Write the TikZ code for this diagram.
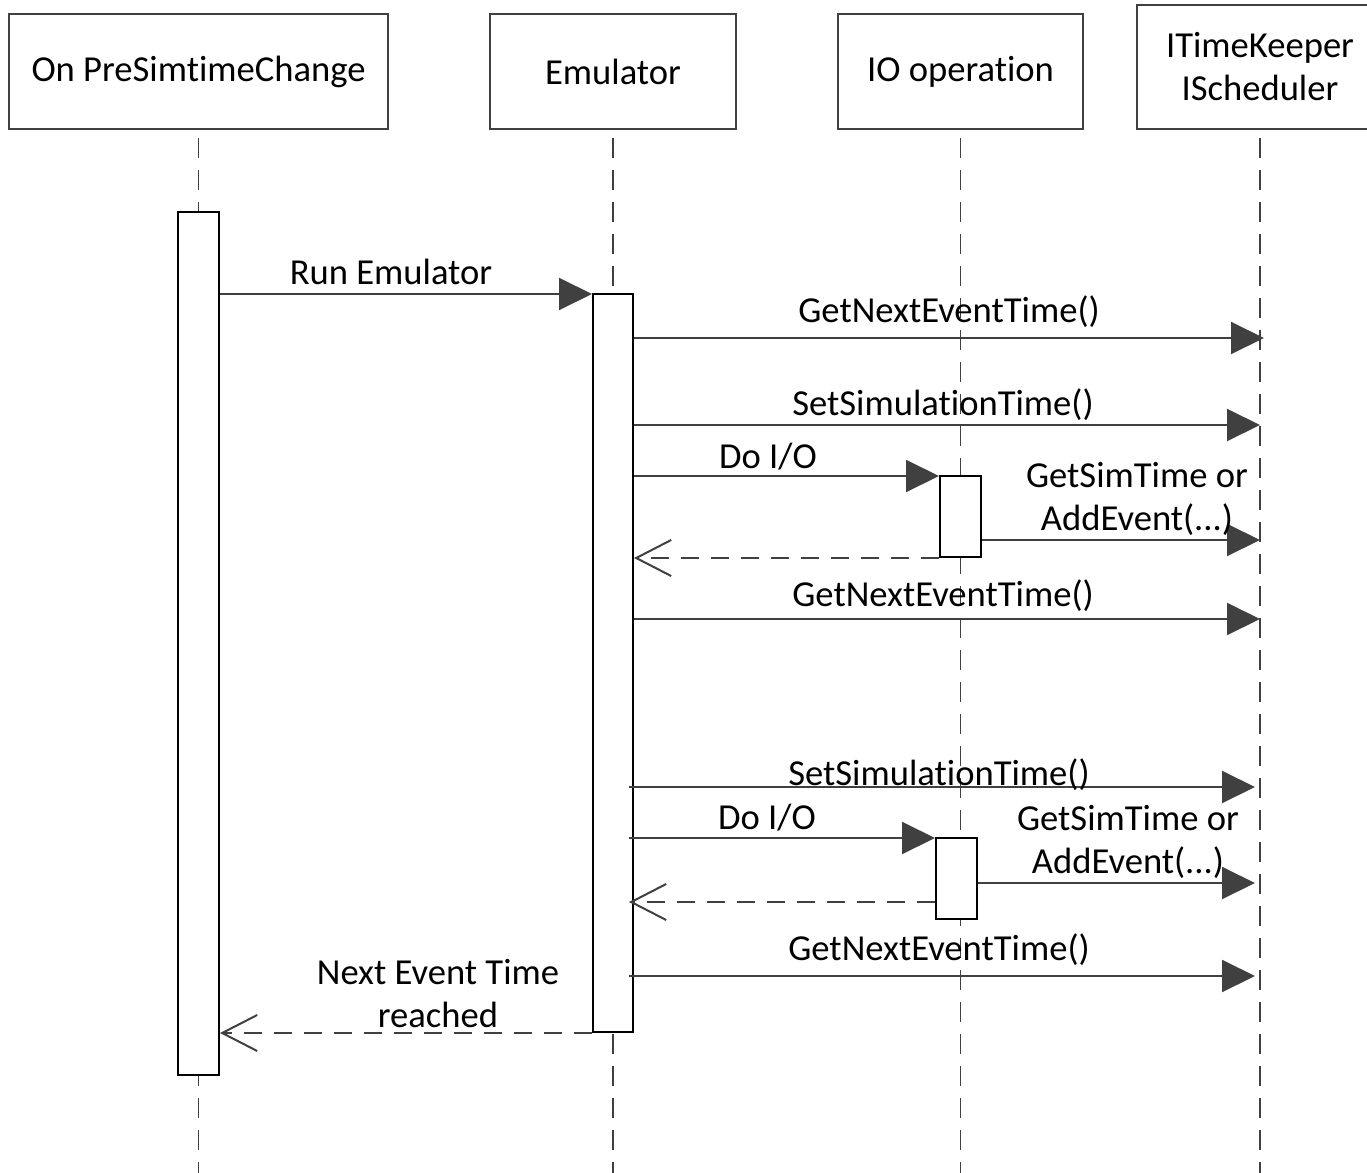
\documentclass[tikz,border=0pt]{standalone}
\usepackage{fontspec}
\setmainfont{Carlito}[Ligatures=NoCommon]
\usetikzlibrary{arrows.meta}
\definecolor{lngray}{HTML}{404040}

\begin{document}
\begin{tikzpicture}[
  x=0.5pt, y=-0.5pt,
  font=\fontsize{18.3}{21.5}\selectfont,
  head/.style={draw=lngray, line width=1pt, align=center, minimum height=57.5pt, inner sep=0pt},
  actbar/.style={draw=black, line width=1pt, fill=white, minimum width=20.5pt, inner sep=0pt},
  life/.style={lngray, line width=0.9pt, dash pattern=on 10pt off 6pt},
  msg/.style={lngray, line width=1pt, -{Triangle[length=16.5pt,width=16pt]}},
  ret/.style={lngray, line width=1pt, dash pattern=on 9pt off 6pt,
              -{Straight Barb[length=17.5pt,width=18pt]}},
  lbl/.style={align=center, inner sep=0pt},
]
\clip (0,0) rectangle (1367,1173);

% ---- participants ---------------------------------------------------------
\node[head, minimum width=189.5pt] (hA) at (198.5,71.5) {On PreSimtimeChange};
\node[head, minimum width=123pt]   (hB) at (613,71.5)   {Emulator};
\node[head, minimum width=122.5pt] (hC) at (960.5,71.5) {IO operation};
\node[head, minimum width=123pt, minimum height=62pt] (hD) at (1260,67)
  {ITimeKeeper\\ IScheduler};

% ---- lifelines ------------------------------------------------------------
\foreach \p in {A,B,C,D} {
  \coordinate (end\p) at (h\p.south |- 0,1180);
  \draw[life] ([yshift=-4pt]h\p.south) -- (end\p);
}

% ---- activations ----------------------------------------------------------
\node[actbar, minimum height=431.5pt] (barA) at (198.5,643.5) {};
\node[actbar, minimum width=20pt, minimum height=369pt] (barB) at (613,663) {};
\node[actbar, minimum height=40.5pt] (barC1) at (960.5,516.5) {};
\node[actbar, minimum height=40.5pt] (barC2) at (956.5,878.5) {};

% ---- messages -------------------------------------------------------------
\draw[msg] (barA.east |- 0,294) -- (barB.west |- 0,294);
\node[lbl, anchor=base] (l1) at (391,284) {Run Emulator};

\draw[msg] (barB.east |- 0,338) -- ([xshift=2pt]hD.south |- 0,338);
\node[lbl, anchor=base] (l2) at (949,322) {GetNextEventTime()};

\draw[msg] (barB.east |- 0,425) -- (hD.south |- 0,425);
\node[lbl, anchor=base] (l3) at (943,415) {SetSimulationTime()};

\draw[msg] (barB.east |- 0,476) -- (barC1.west |- 0,476);
\node[lbl, anchor=base] (l4) at (768,468) {Do I/O};

\draw[msg] (barC1.east |- 0,540) -- (hD.south |- 0,540);
\node[lbl, anchor=north] (l5) at (1137,462) {GetSimTime or\\ AddEvent(...)};

\draw[ret] (barC1.south west) -- (barB.east |- barC1.south);

\draw[msg] (barB.east |- 0,619) -- (hD.south |- 0,619);
\node[lbl, anchor=base] (l6) at (943,606) {GetNextEventTime()};

\draw[msg] ([xshift=-2.5pt]barB.east |- 0,787) -- ([xshift=-2.5pt]hD.south |- 0,787);
\node[lbl, anchor=base] (l7) at (939,785) {SetSimulationTime()};

\draw[msg] ([xshift=-2.5pt]barB.east |- 0,838) -- (barC2.west |- 0,838);
\node[lbl, anchor=base] (l8) at (767,829) {Do I/O};

\draw[msg] (barC2.east |- 0,883) -- ([xshift=-2.5pt]hD.south |- 0,883);
\node[lbl, anchor=north] (l9) at (1128,805) {GetSimTime or\\ AddEvent(...)};

\draw[ret] (barC2.west |- 0,902) -- ([xshift=-2.5pt]barB.east |- 0,902);

\draw[msg] ([xshift=-2.5pt]barB.east |- 0,976) -- ([xshift=-2.5pt]hD.south |- 0,976);
\node[lbl, anchor=base] (l10) at (939,960) {GetNextEventTime()};

\draw[ret] (barB.south west) -- (barA.east |- barB.south);
\node[lbl, anchor=north] (l11) at (438,959) {Next Event Time\\ reached};

\end{tikzpicture}
\end{document}
